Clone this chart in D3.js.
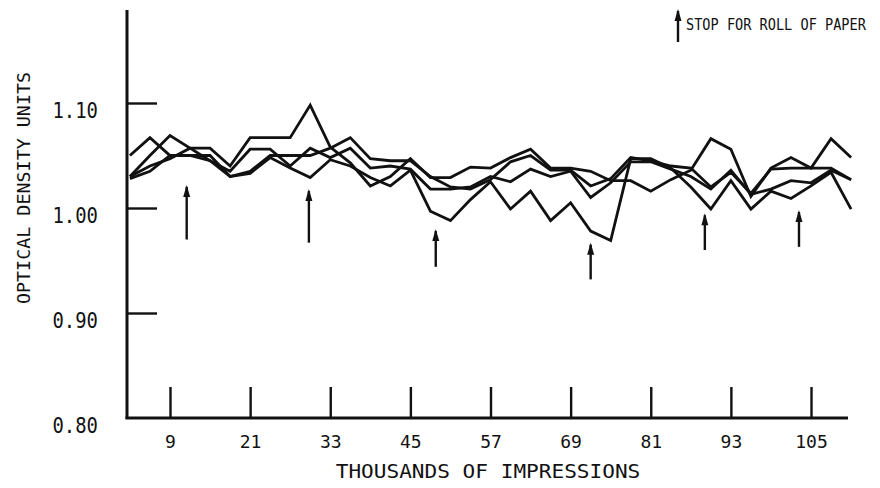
<!DOCTYPE html>
<html><head><meta charset="utf-8">
<script src="https://cdn.jsdelivr.net/npm/d3@7/dist/d3.min.js"></script>
<style>
html,body{margin:0;padding:0;background:#fff;}
svg{display:block;}
text{font-family:"DejaVu Sans Mono","Liberation Mono",monospace;fill:#111;}
</style></head>
<body>
<svg id="chart" width="880" height="488"></svg>
<script>
const impressions = [3,6,9,12,15,18,21,24,27,30,33,36,39,42,45,48,51,54,57,60,63,66,69,72,75,78,81,84,87,90,93,96,99,102,105,108,111];
const run1 = [1.030,1.050,1.069,1.057,1.057,1.040,1.067,1.067,1.067,1.098,1.058,1.043,1.021,1.030,1.047,1.029,1.029,1.039,1.038,1.048,1.056,1.038,1.038,1.035,1.026,1.026,1.016,1.027,1.036,1.066,1.056,1.011,1.038,1.048,1.038,1.066,1.048];
const run2 = [1.050,1.067,1.050,1.050,1.050,1.030,1.035,1.050,1.050,1.050,1.057,1.067,1.047,1.045,1.045,1.030,1.020,1.018,1.027,1.044,1.050,1.036,1.036,1.021,1.028,1.048,1.045,1.040,1.038,1.020,1.034,1.014,1.037,1.038,1.038,1.038,1.027];
const run3 = [1.030,1.040,1.047,1.057,1.045,1.035,1.056,1.056,1.040,1.057,1.048,1.057,1.038,1.040,1.037,1.018,1.018,1.020,1.030,1.025,1.037,1.030,1.035,1.010,1.024,1.044,1.044,1.037,1.030,1.018,1.036,1.013,1.018,1.026,1.024,1.036,1.027];
const run4 = [1.028,1.035,1.050,1.050,1.045,1.030,1.033,1.048,1.038,1.029,1.046,1.040,1.029,1.021,1.036,0.997,0.988,1.008,1.025,0.999,1.016,0.988,1.005,0.978,0.969,1.047,1.047,1.038,1.020,0.999,1.026,0.999,1.016,1.009,1.021,1.034,0.999];
const xTicks = [9,21,33,45,57,69,81,93,105];
const yTicks = [0.90,1.00,1.10];
const yTickLabels = ["0.80","0.90","1.00","1.10"];
const yLabelValues = [0.80,0.90,1.00,1.10];
const stopAt = [11.5,29.8,48.8,72,89.1,103.2];
const stopTop = [1.022,1.018,0.980,0.967,0.995,0.998];
const stopBottom = [0.970,0.967,0.944,0.932,0.960,0.963];
const xTitle = "THOUSANDS OF IMPRESSIONS";
const yTitle = "OPTICAL DENSITY UNITS";
const legendText = "STOP FOR ROLL OF PAPER";

const svg = d3.select("#chart");
const x = d3.scaleLinear().domain([2.56, 110.54]).range([127, 848]);
const y = d3.scaleLinear().domain([0.80, 1.10]).range([418, 103]);
const yTop = 1.1886;
const ink = "#111";
const mono = '"DejaVu Sans Mono","Liberation Mono",monospace';

// axes lines
svg.append("line").attr("x1", x(2.56)).attr("x2", x(2.56)).attr("y1", y(yTop)).attr("y2", y(0.8) + 1)
  .attr("stroke", ink).attr("stroke-width", 3);
svg.append("line").attr("x1", x(2.56) - 1.5).attr("x2", x(110.54)).attr("y1", y(0.8)).attr("y2", y(0.8))
  .attr("stroke", ink).attr("stroke-width", 2.8);

// x ticks (upward)
const xAxis = d3.axisBottom(x).tickValues(xTicks).tickSize(-31).tickPadding(0).tickFormat(d3.format("d"));
const gx = svg.append("g").attr("transform", `translate(0,${y(0.8)})`).call(xAxis);
gx.select(".domain").remove();
gx.selectAll(".tick line").attr("stroke", ink).attr("stroke-width", 2.4);
gx.selectAll(".tick text").attr("y", 30).attr("dy", 0).attr("font-size", 18).attr("fill", ink)
  .style("font-family", mono);

// y ticks (inward)
const yAxis = d3.axisLeft(y).tickValues(yTicks).tickSize(-30).tickFormat("");
const gy = svg.append("g").attr("transform", `translate(${x(2.56)},0)`).call(yAxis);
gy.select(".domain").remove();
gy.selectAll(".tick line").attr("stroke", ink).attr("stroke-width", 2.4);

// y labels
svg.append("g").selectAll("text").data(yLabelValues).join("text")
  .attr("transform", d => `translate(98,${y(d) + 15}) scale(0.9,1)`)
  .attr("text-anchor", "end").attr("font-size", 21)
  .text((d, i) => yTickLabels[i]);

// titles
svg.append("text").attr("transform", "translate(488,478) scale(1.11,1)").attr("text-anchor", "middle")
  .attr("font-size", 19).text(xTitle);
svg.append("text").attr("transform", "translate(30,188) rotate(-90) scale(1.08,1)").attr("text-anchor", "middle")
  .attr("font-size", 17).text(yTitle);

// lines
const line = d3.line().x((d, i) => x(impressions[i])).y(d => y(d));
[run1, run2, run3, run4].forEach(s => {
  svg.append("path").datum(s).attr("d", line).attr("fill", "none").attr("stroke", ink)
    .attr("stroke-width", 2.8).attr("stroke-linejoin", "miter");
});

// stop arrows
function arrow(g, cx, top, bottom) {
  g.append("line").attr("x1", cx).attr("x2", cx).attr("y1", top + 2).attr("y2", bottom)
    .attr("stroke", ink).attr("stroke-width", 2.4);
  g.append("path").attr("d", `M${cx},${top} L${cx - 3.5},${top + 12} L${cx + 3.5},${top + 12} Z`).attr("fill", ink);
}
const ga = svg.append("g");
stopAt.forEach((v, i) => arrow(ga, x(v), y(stopTop[i]), y(stopBottom[i])));

// legend
arrow(svg.append("g"), 678, 9, 42);
svg.append("text").attr("transform", "translate(686,30) scale(0.85,1)").attr("font-size", 16).text(legendText);
</script>
</body></html>
